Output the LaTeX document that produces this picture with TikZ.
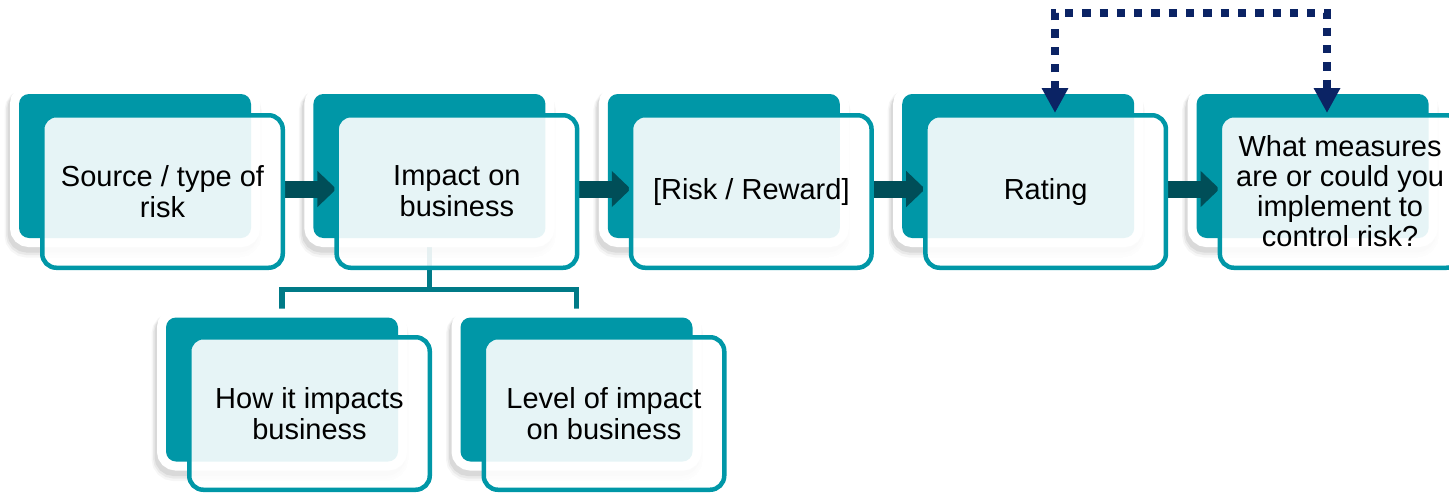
\documentclass[tikz,border=0pt]{standalone}
\usepackage{fontspec}
\setmainfont{Liberation Sans}
\usetikzlibrary{arrows.meta,calc,shadows}
\definecolor{boxteal}{RGB}{0,151,167}
\definecolor{linkteal}{RGB}{0,122,135}
\definecolor{arrowteal}{RGB}{0,78,88}
\definecolor{loopnavy}{RGB}{11,35,100}
\pgfdeclarelayer{under}
\pgfdeclarelayer{backs}
\pgfdeclarelayer{flows}
\pgfsetlayers{under,backs,flows,main}

\begin{document}
\begin{tikzpicture}[x=1pt,y=-1pt,
  backbox/.style={rectangle, rounded corners=10pt, fill=boxteal,
    minimum width=232pt, minimum height=144pt, inner sep=0pt, outer sep=0pt,
    general shadow={shadow xshift=-2pt, shadow yshift=-7pt, fill=none, draw=black, draw opacity=0.035, line width=25pt},
    general shadow={shadow xshift=-2pt, shadow yshift=-6pt, fill=none, draw=black, draw opacity=0.05, line width=22pt},
    general shadow={shadow xshift=-2pt, shadow yshift=-5pt, fill=none, draw=black, draw opacity=0.07, line width=19pt},
    preaction={draw=white, fill=none, line width=18pt}},
  frontbox/.style={rectangle, rounded corners=14pt, draw=boxteal, line width=4.5pt,
    fill=white, fill opacity=0.9, text opacity=1, text=black,
    minimum width=240.5pt, minimum height=152.5pt, inner sep=0pt, align=center,
    font=\fontsize{29}{31}\selectfont},
  stepflow/.style={arrowteal, line width=17pt, -{Triangle[width=35pt,length=19pt]}},
  treelink/.style={linkteal, line width=5.5pt},
  feedback/.style={loopnavy, line width=8.3pt, dash pattern=on 8.3pt off 9pt,
    <->, >={Triangle[width=25pt,length=25pt]}}
]
\useasboundingbox (0,0) rectangle (1449,493);

% teal back panels with white rim and soft shadow
\begin{pgfonlayer}{backs}
  \node[backbox] (b1) at (135,166) {};
  \node[backbox] (b2) at (429.4,166) {};
  \node[backbox] (b3) at (723.8,166) {};
  \node[backbox] (b4) at (1018.2,166) {};
  \node[backbox] (b5) at (1312.6,166) {};
  \node[backbox] (b6) at (282,389.5) {};
  \node[backbox] (b7) at (576.5,389.5) {};
\end{pgfonlayer}

% outlined front panels carrying the text
\node[frontbox] (f1) at ($(b1)+(27.5,25.5)$) {Source / type of\\risk};
\node[frontbox] (f2) at ($(b2)+(27.5,25.5)$) {Impact on\\business};
\node[frontbox] (f3) at ($(b3)+(27.5,25.5)$) {[Risk / Reward]};
\node[frontbox] (f4) at ($(b4)+(27.5,25.5)$) {Rating};
\node[frontbox, font=\fontsize{29}{30}\selectfont] (f5) at ($(b5)+(27.5,25.5)$)
  {What measures\\are or could you\\implement to\\control risk?};
\node[frontbox] (f6) at ($(b6)+(27.5,24)$) {How it impacts\\business};
\node[frontbox] (f7) at ($(b7)+(27.5,24)$) {Level of impact\\on business};

% block arrows between the steps
\begin{pgfonlayer}{flows}
  \draw[stepflow] ([yshift=2.5pt]f1.east) -- ([xshift=2pt,yshift=2.5pt]f2.west);
  \draw[stepflow] ([yshift=2.5pt]f2.east) -- ([xshift=2pt,yshift=2.5pt]f3.west);
  \draw[stepflow] ([yshift=2.5pt]f3.east) -- ([xshift=2pt,yshift=2.5pt]f4.west);
  \draw[stepflow] ([yshift=2.5pt]f4.east) -- ([xshift=2pt,yshift=2.5pt]f5.west);
\end{pgfonlayer}

% tree connector below "Impact on business"
\begin{pgfonlayer}{under}
  \coordinate (fork) at (429.4,289.5);
  \draw[treelink] (b2.south) -- (fork) -| (b6.north);
  \draw[treelink] (fork) -| (b7.north);
\end{pgfonlayer}

% dotted feedback loop between rating and control measures
\coordinate (looptop) at (1190,13);
\draw[feedback] ([xshift=9.3pt]f4.north) |- (looptop) -| ([xshift=-13.1pt]f5.north);

\end{tikzpicture}
\end{document}
